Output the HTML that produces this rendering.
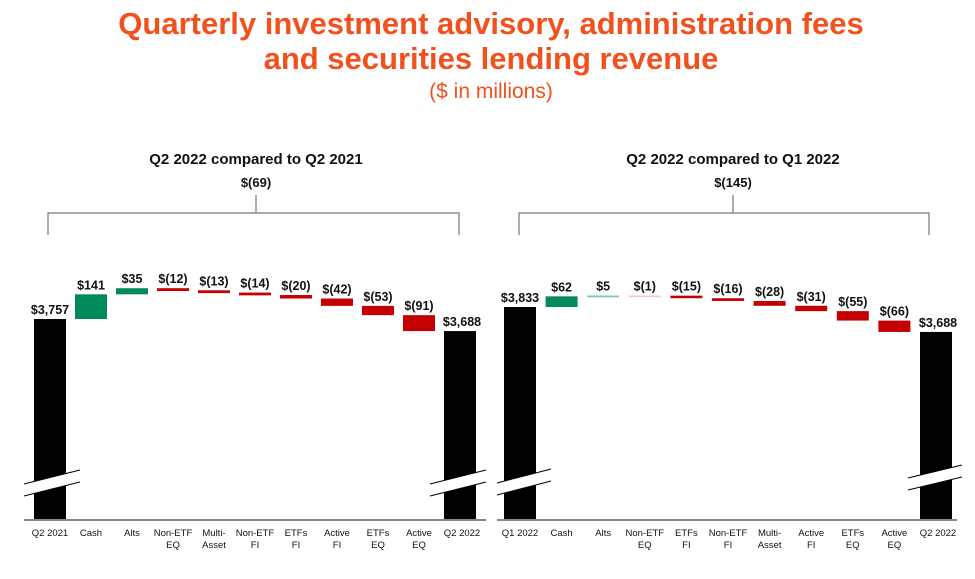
<!DOCTYPE html>
<html><head><meta charset="utf-8"><style>
body{margin:0;background:#fff;width:975px;height:574px;overflow:hidden;font-family:"Liberation Sans",sans-serif}
svg text{font-family:"Liberation Sans",sans-serif}
</style></head><body>
<svg id="c" width="975" height="574" viewBox="0 0 975 574">
<text x="491" y="34" text-anchor="middle" font-size="31" font-weight="bold" fill="#f2501c">Quarterly investment advisory, administration fees</text>
<text x="491" y="69" text-anchor="middle" font-size="31" font-weight="bold" fill="#f2501c">and securities lending revenue</text>
<text x="491" y="98" text-anchor="middle" font-size="21" fill="#f2501c">($ in millions)</text>
</svg>
<script>
const leftCats=[["Q2 2021"],["Cash"],["Alts"],["Non-ETF","EQ"],["Multi-","Asset"],["Non-ETF","FI"],["ETFs","FI"],["Active","FI"],["ETFs","EQ"],["Active","EQ"],["Q2 2022"]];
const leftStart=3757;
const leftDeltas=[141,35,-12,-13,-14,-20,-42,-53,-91];
const leftEnd=3688;
const rightCats=[["Q1 2022"],["Cash"],["Alts"],["Non-ETF","EQ"],["ETFs","FI"],["Non-ETF","FI"],["Multi-","Asset"],["Active","FI"],["ETFs","EQ"],["Active","EQ"],["Q2 2022"]];
const rightStart=3833;
const rightDeltas=[62,5,-1,-15,-16,-28,-31,-55,-66];
const rightEnd=3688;
const NS="http://www.w3.org/2000/svg";
const svg=document.getElementById('c');
function mk(tag,attrs,parent){const e=document.createElementNS(NS,tag);for(const k in attrs)e.setAttribute(k,attrs[k]);(parent||svg).appendChild(e);return e;}
function fmt(v){const s=Math.abs(v).toLocaleString('en-US');return v<0?"$("+s+")":"$"+s;}
function chart(p){
  const g=mk('g',{});
  
  
  const base=520, scale=p.scale;
  const y=v=>p.topY-(v-p.start)*scale;
  const cx=i=>p.x0+i*p.step;
  const bw=32;
  let t=mk('text',{x:p.mid,y:164,'text-anchor':'middle','font-size':15,'font-weight':'bold',fill:'#111'},g);t.textContent=p.title;
  
  t=mk('text',{x:p.mid,y:187,'text-anchor':'middle','font-size':13,'font-weight':'bold',fill:'#111'},g);t.textContent=fmt(p.end-p.start);
  
  const br=mk('path',{d:`M${p.b0} 235V213H${p.b1}V235M${p.mid} 213V195`,fill:'none',stroke:'#777','stroke-width':1.2},g);
  
  [[0,p.start],[10,p.end]].forEach(([i,v])=>{
    const r=mk('rect',{x:cx(i)-bw/2,y:y(v),width:bw,height:base-y(v),fill:'#000'},g);
    
    const l=mk('text',{x:cx(i)+(i?2:0),y:y(v)-5,'text-anchor':'middle','font-size':12.5,'font-weight':'bold',fill:'#111'},g);l.textContent=fmt(v);
    
  });
  let run=p.start;
  p.deltas.forEach((d,k)=>{
    const i=k+1,a=run,b=run+d;run=b;
    const top=Math.min(y(a),y(b));let h=Math.abs(y(a)-y(b));
    const small=Math.abs(d)<=5;
    if(h<2.5){h=small?1.8:2.8;}
    const col=d>0?(small?'#7cc9a8':'#008a5c'):(small?'#efcccc':'#c40000');
    const r=mk('rect',{x:cx(i)-bw/2,y:top,width:bw,height:h,fill:col},g);
    
    const l=mk('text',{x:cx(i),y:top-5,'text-anchor':'middle','font-size':12.5,'font-weight':'bold',fill:'#111'},g);l.textContent=fmt(d);
    
  });
  p.breaks.forEach(bk=>{
    const [x1,y1,x2,y2]=bk;
    const w=mk('polygon',{points:`${x1},${y1} ${x2},${y2} ${x2},${y2+12} ${x1},${y1+12}`,fill:'#fff'},g);
    
    mk('line',{x1,y1,x2,y2,stroke:'#000','stroke-width':1},g);
    mk('line',{x1,y1:y1+12,x2,y2:y2+12,stroke:'#000','stroke-width':1},g);
  });
  const ax=mk('line',{x1:p.ax0,y1:520,x2:p.ax1,y2:520,stroke:'#888','stroke-width':2},g);
  
  p.cats.forEach((c,i)=>{
    c.forEach((ln,j)=>{
      const l=mk('text',{x:cx(i)+(i==10?2:0),y:536+j*12,'text-anchor':'middle','font-size':9.5,fill:'#111'},g);l.textContent=ln;
      
    });
  });
}
chart({name:'left-waterfall',title:'Q2 2022 compared to Q2 2021',cats:leftCats,start:leftStart,deltas:leftDeltas,end:leftEnd,
  x0:50,step:41,mid:256,topY:319,scale:0.175,ax0:24,ax1:486,b0:48,b1:459,
  breaks:[[24,484,80,470],[430,484,486,470]]});
chart({name:'right-waterfall',title:'Q2 2022 compared to Q1 2022',cats:rightCats,start:rightStart,deltas:rightDeltas,end:rightEnd,
  x0:520,step:41.6,mid:733,topY:307,scale:0.172,ax0:497,ax1:957,b0:519,b1:929,
  breaks:[[497,483,551,469],[908,478,962,465]]});
</script>
</body></html>
